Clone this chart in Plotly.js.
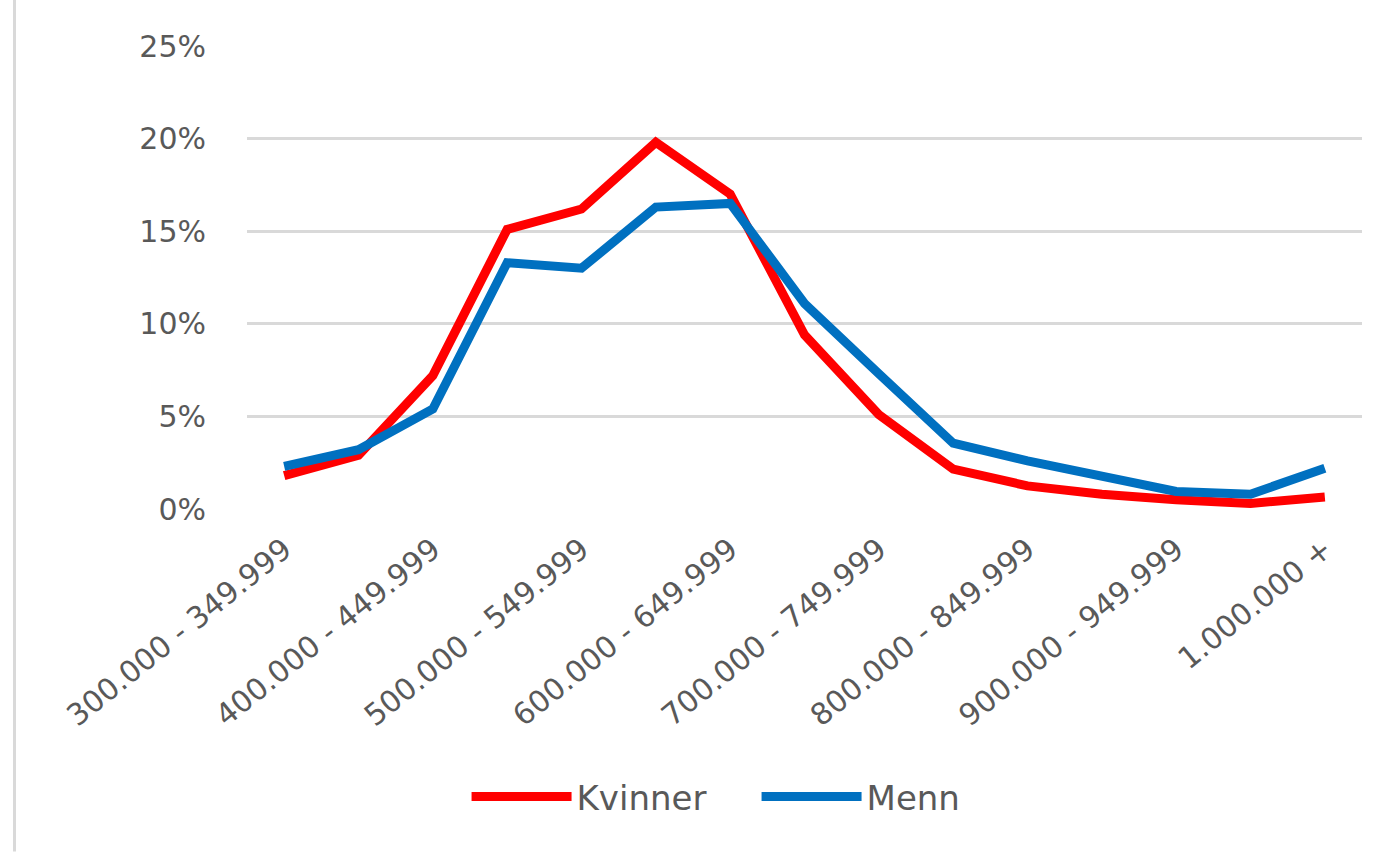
<!DOCTYPE html>
<html>
<head>
<meta charset="utf-8">
<script src="https://cdn.plot.ly/plotly-3.0.1.min.js"></script>
<style>
  html, body { margin: 0; padding: 0; background: #ffffff; }
  #chart { width: 1395px; height: 852px; }
</style>
</head>
<body>
<div id="chart"></div>
<script>
const categories = [
  "300.000 - 349.999", "350.000 - 399.999", "400.000 - 449.999", "450.000 - 499.999",
  "500.000 - 549.999", "550.000 - 599.999", "600.000 - 649.999", "650.000 - 699.999",
  "700.000 - 749.999", "750.000 - 799.999", "800.000 - 849.999", "850.000 - 899.999",
  "900.000 - 949.999", "950.000 - 999.999", "1.000.000 +"
];
const kvinner = [1.8, 2.9, 7.2, 15.1, 16.2, 19.8, 17.0, 9.4, 5.1, 2.15, 1.25, 0.8, 0.5, 0.3, 0.65];
const menn    = [2.3, 3.2, 5.4, 13.3, 13.0, 16.3, 16.5, 11.1, 7.3, 3.55, 2.6, 1.75, 0.95, 0.8, 2.2];
const yTicks = [0, 5, 10, 15, 20, 25];
const yTickText = yTicks.map(v => v + "%");

const textColor = "#595959";
const gridColor = "#d9d9d9";

const traces = [
  { type: "scatter", mode: "lines", name: "Kvinner", x: categories, y: kvinner,
    line: { color: "#ff0000", width: 9 } },
  { type: "scatter", mode: "lines", name: "Menn", x: categories, y: menn,
    line: { color: "#0070c0", width: 9 } }
];

const layout = {
  width: 1395, height: 852,
  margin: { l: 247, r: 33, t: 46, b: 343 },
  paper_bgcolor: "#ffffff", plot_bgcolor: "#ffffff",
  font: { family: "DejaVu Sans", size: 30, color: textColor },
  showlegend: true,
  legend: {
    orientation: "h", x: 0.457, xanchor: "center", y: -0.622, yanchor: "middle",
    font: { family: "DejaVu Sans", size: 34, color: textColor },
    itemwidth: 100, entrywidth: 175
  },
  xaxis: {
    type: "category", range: [-0.5, categories.length - 0.5],
    tickmode: "linear", tick0: 0, dtick: 2,
    tickangle: -39, showgrid: false, zeroline: false, showline: false,
    ticks: "", ticklabelstandoff: 16,
    tickfont: { family: "DejaVu Sans", size: 30, color: textColor }
  },
  yaxis: {
    range: [0, 25], tickmode: "array", tickvals: yTicks, ticktext: yTickText,
    showgrid: true, gridcolor: gridColor, gridwidth: 3,
    zeroline: false, showline: false, ticks: "", ticklabelstandoff: 40,
    tickfont: { family: "DejaVu Sans", size: 30, color: textColor }
  },
  shapes: [
    { type: "line", xref: "paper", yref: "paper",
      x0: -0.2085, x1: -0.2085, y0: -0.74, y1: 1.1,
      line: { color: gridColor, width: 3 } }
  ]
};

Plotly.newPlot("chart", traces, layout, { displayModeBar: false, staticPlot: true });
</script>
</body>
</html>
